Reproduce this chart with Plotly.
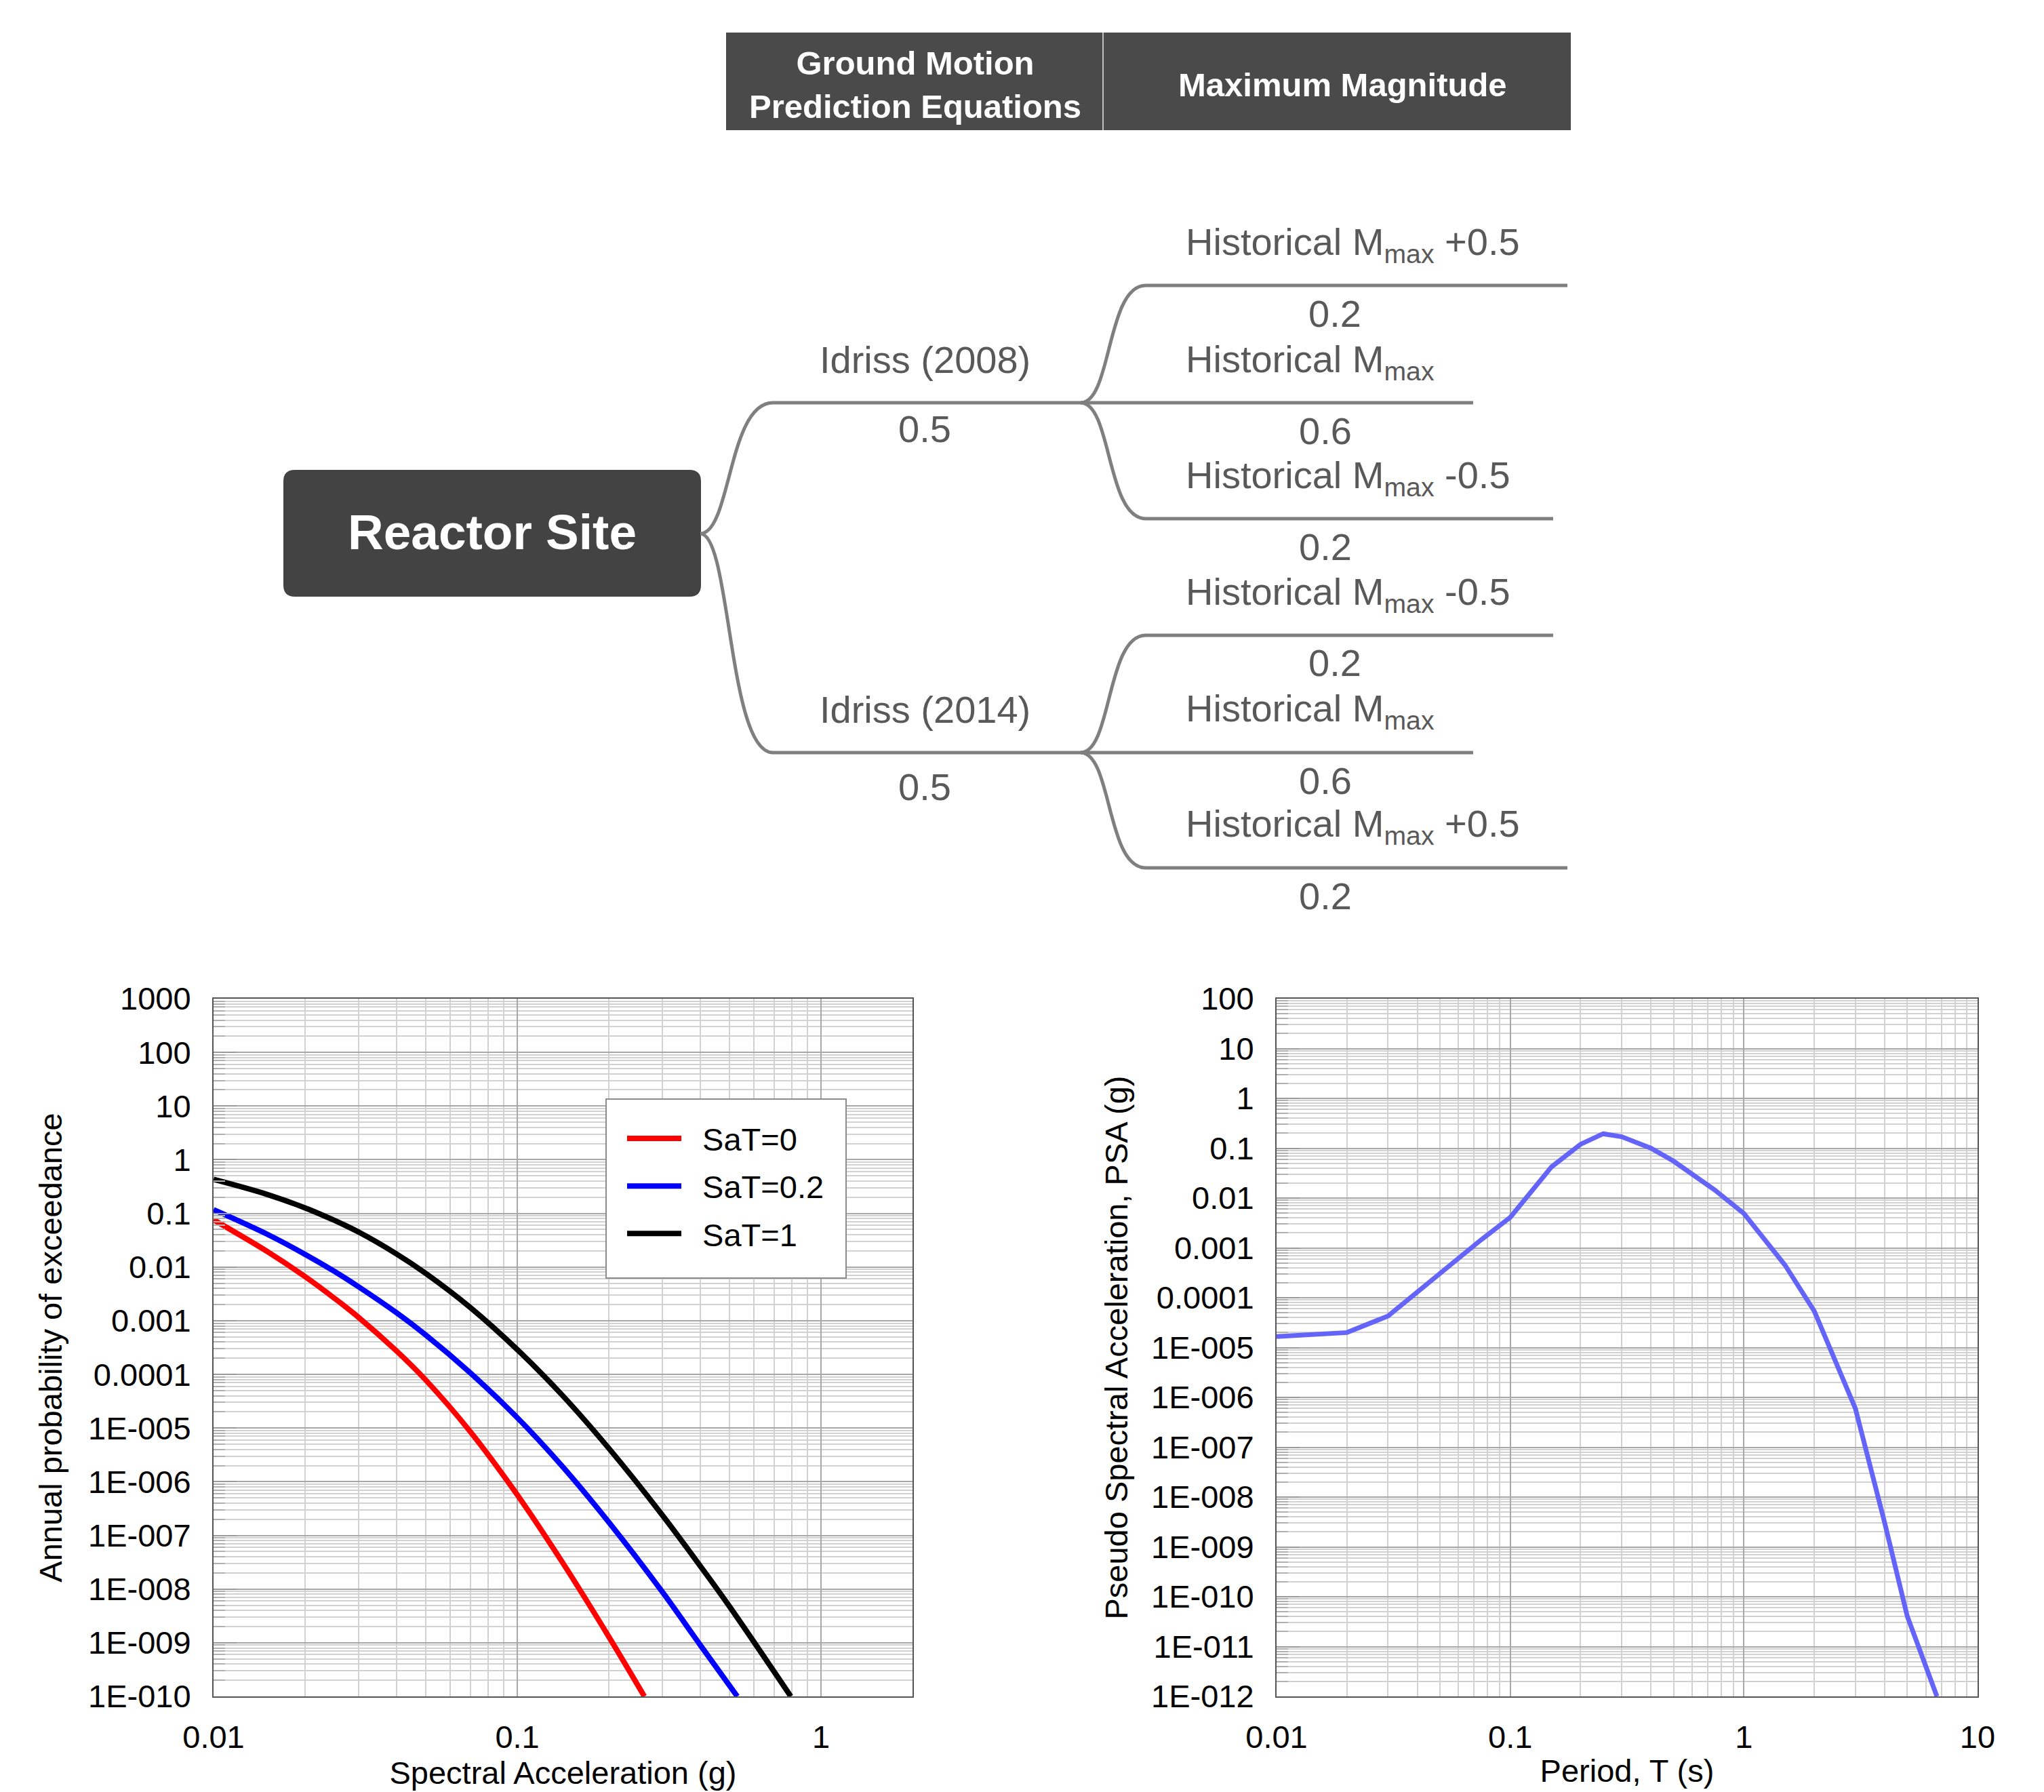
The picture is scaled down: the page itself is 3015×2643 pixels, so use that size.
import numpy as np
import plotly.graph_objects as go

W, H = 3015, 2643
FONT = "Liberation Sans, Arial, Helvetica, sans-serif"

# ---------------- data: hazard curves (left chart) ----------------
sa_sat0 = [0.01, 0.015, 0.02, 0.025, 0.03, 0.04, 0.05, 0.07, 0.1, 0.14, 0.2, 0.262]
afe_sat0 = [7.6e-2, 1.96e-2, 6.65e-3, 2.62e-3, 1.16e-3, 2.74e-4, 7.8e-5, 8.6e-6, 5.7e-7,
            3.3e-8, 1.3e-9, 1.0e-10]

sa_sat02 = [0.01, 0.015, 0.02, 0.025, 0.03, 0.04, 0.05, 0.07, 0.1, 0.14, 0.2, 0.3, 0.4, 0.53]
afe_sat02 = [1.17e-1, 4.1e-2, 1.73e-2, 8.3e-3, 4.3e-3, 1.41e-3, 5.4e-4, 1.07e-4, 1.56e-5,
             2.0e-6, 1.77e-7, 8.9e-9, 9.1e-10, 1.0e-10]

sa_sat1 = [0.01, 0.015, 0.02, 0.025, 0.03, 0.04, 0.05, 0.07, 0.1, 0.14, 0.2, 0.3, 0.4, 0.5, 0.795]
afe_sat1 = [4.3e-1, 2.26e-1, 1.27e-1, 7.4e-2, 4.5e-2, 1.76e-2, 7.6e-3, 1.77e-3, 2.9e-4,
            4.2e-5, 4.2e-6, 2.4e-7, 2.7e-8, 4.7e-9, 1.0e-10]

series_names = ["SaT=0", "SaT=0.2", "SaT=1"]
series_colors = ["#ff0000", "#0000ff", "#000000"]

# ---------------- data: response spectrum (right chart) ----------------
period = [0.01, 0.02, 0.03, 0.05, 0.075, 0.1, 0.15, 0.2, 0.25, 0.3, 0.4, 0.5,
          0.75, 1.0, 1.5, 2.0, 3.0, 4.0, 5.0, 6.7]
psa = [1.66e-5, 2.0e-5, 4.3e-5, 3.1e-4, 1.45e-3, 4.1e-3, 4.2e-2, 1.2e-1, 1.95e-1, 1.7e-1,
       1.0e-1, 5.5e-2, 1.45e-2, 4.9e-3, 4.5e-4, 5.4e-5, 6.0e-7, 3.1e-9, 4.1e-11, 1.0e-12]

# ---------------- tick labels ----------------
left_xtick_vals = [0.01, 0.1, 1]
left_xtick_text = ["0.01", "0.1", "1"]
left_ytick_vals = [1e3, 1e2, 1e1, 1e0, 1e-1, 1e-2, 1e-3, 1e-4, 1e-5, 1e-6, 1e-7, 1e-8, 1e-9, 1e-10]
left_ytick_text = ["1000", "100", "10", "1", "0.1", "0.01", "0.001", "0.0001",
                   "1E-005", "1E-006", "1E-007", "1E-008", "1E-009", "1E-010"]
right_xtick_vals = [0.01, 0.1, 1, 10]
right_xtick_text = ["0.01", "0.1", "1", "10"]
right_ytick_vals = [1e2, 1e1, 1e0, 1e-1, 1e-2, 1e-3, 1e-4, 1e-5, 1e-6, 1e-7, 1e-8, 1e-9,
                    1e-10, 1e-11, 1e-12]
right_ytick_text = ["100", "10", "1", "0.1", "0.01", "0.001", "0.0001", "1E-005", "1E-006",
                    "1E-007", "1E-008", "1E-009", "1E-010", "1E-011", "1E-012"]

# ---------------- logic tree ----------------
header_labels = ["Ground Motion<br>Prediction Equations", "Maximum Magnitude"]
root_label = "Reactor Site"
gmpe_labels = ["Idriss (2008)", "Idriss (2014)"]
gmpe_weights = [0.5, 0.5]
mmax_labels = [["Historical M<sub>max</sub> +0.5", "Historical M<sub>max</sub>",
                "Historical M<sub>max</sub> -0.5"],
               ["Historical M<sub>max</sub> -0.5", "Historical M<sub>max</sub>",
                "Historical M<sub>max</sub> +0.5"]]
mmax_weights = [[0.2, 0.6, 0.2], [0.2, 0.6, 0.2]]


def px(x):
    return x / W


def py(y):
    return 1 - y / H


def pt(x, y):
    return f"{px(x):.5f},{py(y):.5f}"


fig = go.Figure()

# left chart traces (legend text padded to sit clear of the line sample)
for xs, ys, nm, col in zip([sa_sat0, sa_sat02, sa_sat1], [afe_sat0, afe_sat02, afe_sat1],
                           series_names, series_colors):
    fig.add_trace(go.Scatter(x=xs, y=ys, mode="lines", name="\u00a0\u00a0" + nm, legendgroup=nm,
                             line=dict(color=col, width=8, shape="spline", smoothing=1.0),
                             xaxis="x", yaxis="y"))

# right chart trace
fig.add_trace(go.Scatter(x=period, y=psa, mode="lines", name="PSA", showlegend=False,
                         line=dict(color="#6464f8", width=7), xaxis="x2", yaxis="y2"))


def minor_vals(lo, hi, vmin, vmax):
    out = []
    for e in range(lo, hi + 1):
        for k in range(2, 10):
            v = k * 10.0 ** e
            if vmin < v < vmax:
                out.append(v)
    return out


def axis(domain, rng, tv, tt, minors, title, standoff, anchor, is_y):
    d = dict(type="log", domain=domain, range=rng, anchor=anchor,
             tickmode="array", tickvals=tv, ticktext=tt,
             tickfont=dict(family=FONT, size=47, color="#000"),
             showgrid=True, gridcolor="#a8a8a8", gridwidth=2,
             showline=True, linecolor="#555555", linewidth=2, mirror=True,
             zeroline=False, automargin=False,
             title=dict(text=title, font=dict(family=FONT, size=47, color="#000"),
                        standoff=standoff),
             minor=dict(tickmode="array", tickvals=minors, showgrid=True,
                        gridcolor="#d2d2d2", gridwidth=1.5))
    if is_y:
        d.update(ticks="inside", ticklen=34, tickcolor="#9a9a9a", tickwidth=2,
                 ticklabelstandoff=22)
        d["minor"].update(ticks="inside", ticklen=17, tickcolor="#b0b0b0", tickwidth=2)
    else:
        d.update(ticks="", ticklabelstandoff=18)
    return d


ydom = [1 - 2502 / H, 1 - 1473 / H]
fig.update_layout(
    xaxis=axis([315 / W, 1346 / W], [-2, np.log10(2.0)], left_xtick_vals, left_xtick_text,
               minor_vals(-2, 0, 0.01, 2.0), "Spectral Acceleration (g)", 8, "y", False),
    yaxis=axis(ydom, [-10, 3], left_ytick_vals, left_ytick_text,
               minor_vals(-10, 2, 1e-10, 1e3), "Annual probability of exceedance", 24, "x", True),
    xaxis2=axis([1883 / W, 2917 / W], [-2, 1], right_xtick_vals, right_xtick_text,
                minor_vals(-2, 0, 0.01, 10), "Period, T (s)", 8, "y2", False),
    yaxis2=axis(ydom, [-12, 2], right_ytick_vals, right_ytick_text,
                minor_vals(-12, 1, 1e-12, 100), "Pseudo Spectral Acceleration, PSA (g)", 20,
                "x2", True),
)

# ---------------- logic tree drawing ----------------
shapes = []
annotations = []
TREE_LINE = dict(color="#7f7f7f", width=5)
TXT = dict(family=FONT, size=56, color="#595959")


def note(x, y, text, font, xanchor="center", yanchor="middle"):
    annotations.append(dict(xref="paper", yref="paper", x=px(x), y=py(y), text=text,
                            showarrow=False, xanchor=xanchor, yanchor=yanchor,
                            align="center", font=font))


# legend frame
shapes.append(dict(type="rect", xref="paper", yref="paper", x0=px(894), x1=px(1248),
                   y0=py(1885), y1=py(1621), fillcolor="#ffffff",
                   line=dict(color="#8c8c8c", width=2), layer="above"))

# header cells
shapes.append(dict(type="rect", xref="paper", yref="paper", x0=px(1071), x1=px(2317),
                   y0=py(192), y1=py(48), fillcolor="#4a4a4a", line=dict(width=0),
                   layer="below"))
shapes.append(dict(type="line", xref="paper", yref="paper", x0=px(1627), x1=px(1627),
                   y0=py(192), y1=py(48), line=dict(color="#c0c0c0", width=2)))
for lbl, cx in zip(header_labels, [1350, 1980]):
    note(cx, 125, f"<b>{lbl}</b>", dict(family=FONT, size=49, color="#ffffff"))

# root box (rounded)
bx0, bx1, by0, by1, r = 419, 1033, 694, 879, 16
root_path = (f"M {pt(bx0 + r, by0)} L {pt(bx1 - r, by0)} Q {pt(bx1, by0)} {pt(bx1, by0 + r)} "
             f"L {pt(bx1, by1 - r)} Q {pt(bx1, by1)} {pt(bx1 - r, by1)} L {pt(bx0 + r, by1)} "
             f"Q {pt(bx0, by1)} {pt(bx0, by1 - r)} L {pt(bx0, by0 + r)} Q {pt(bx0, by0)} {pt(bx0 + r, by0)} Z")
shapes.append(dict(type="path", xref="paper", yref="paper", path=root_path,
                   fillcolor="#434343", line=dict(color="#434343", width=2)))
note((bx0 + bx1) / 2, 785, f"<b>{root_label}</b>", dict(family=FONT, size=73, color="#ffffff"))

root_y = 787
gmpe_y = [594, 1110]
node_x = 1594
branch_off = [[-173, 0, 171], [-173, 0, 170]]
branch_end = [[2312, 2173, 2291], [2291, 2173, 2312]]
prob_x = [[1969, 1955, 1955], [1969, 1955, 1955]]

for gi, gy in enumerate(gmpe_y):
    path = (f"M {pt(1033, root_y)} C {pt(1078, root_y)} {pt(1074, gy)} {pt(1140, gy)} "
            f"L {pt(node_x, gy)}")
    shapes.append(dict(type="path", xref="paper", yref="paper", path=path, line=TREE_LINE))
    note(1364, gy - 64, gmpe_labels[gi], TXT)
    note(1364, gy + 38 + 12 * gi, f"{gmpe_weights[gi]}", TXT)
    for bi in range(3):
        by = gy + branch_off[gi][bi]
        if branch_off[gi][bi] == 0:
            path = f"M {pt(node_x, gy)} L {pt(branch_end[gi][bi], gy)}"
        else:
            path = (f"M {pt(node_x, gy)} C {pt(1640, gy)} {pt(1632, by)} {pt(1690, by)} "
                    f"L {pt(branch_end[gi][bi], by)}")
        shapes.append(dict(type="path", xref="paper", yref="paper", path=path, line=TREE_LINE))
        note(1747, by - 61, mmax_labels[gi][bi], TXT, xanchor="left")
        note(prob_x[gi][bi], by + 41, f"{mmax_weights[gi][bi]}", TXT)

fig.update_layout(
    width=W, height=H, template="none",
    margin=dict(l=0, r=0, t=0, b=0, pad=0),
    paper_bgcolor="#ffffff", plot_bgcolor="#ffffff",
    font=dict(family=FONT, size=47, color="#000"),
    shapes=shapes, annotations=annotations,
    showlegend=True,
    legend=dict(x=920 / W, y=1 - 1642 / H, xanchor="left", yanchor="top",
                bgcolor="rgba(0,0,0,0)", borderwidth=0, itemwidth=80,
                font=dict(family=FONT, size=47, color="#000"), tracegroupgap=6),
)

fig.write_html("out.html", config={"displayModeBar": False},
               post_script="document.body.style.margin='0';document.body.style.overflow='hidden';")
